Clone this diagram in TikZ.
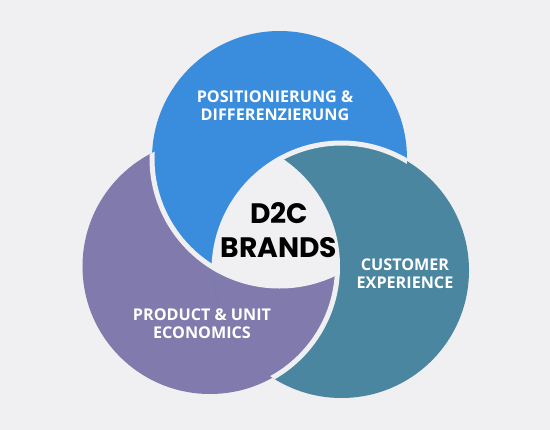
\documentclass[tikz,border=0pt]{standalone}
\usepackage{fontspec}
\setmainfont{Open Sans}
\newfontfamily\brandfont{Poppins}
\usepackage{xcolor}
\definecolor{bgGray}{RGB}{240, 239, 242}
\definecolor{posBlue}{RGB}{58, 141, 221}
\definecolor{prodPurple}{RGB}{128, 122, 173}
\definecolor{custTeal}{RGB}{74, 134, 160}

\begin{document}
\begin{tikzpicture}[x=0.5mm,y=-0.5mm,
    ringlabel/.style={text=white,align=center,font=\bfseries\fontsize{23}{25.6}\selectfont},
    gap/.style={draw=bgGray,line width=2.5mm}]
    % Background
    \fill[bgGray] (0,0) rectangle (550,430);
    \useasboundingbox (0,0) rectangle (550,430);
    \def\rad{63.75mm}

    % Centres
    \coordinate (cb) at (279.5,158.5);
    \coordinate (cp) at (210,266.5);
    \coordinate (ct) at (341.5,270.5);

    % Rings
    \fill[prodPurple] (cp) circle[radius=\rad];
    \fill[posBlue] (cb) circle[radius=\rad];
    \fill[custTeal] (ct) circle[radius=\rad];
    \begin{scope}
        \clip (ct) circle[radius=\rad];
        \fill[prodPurple] (cp) circle[radius=\rad];
    \end{scope}

    % Middle
    \begin{scope}
        \clip (cb) circle[radius=\rad];
        \clip (cp) circle[radius=\rad];
        \fill[bgGray] (ct) circle[radius=\rad];
    \end{scope}

    % Gaps
    \begin{scope}
        \clip (cp) circle[radius=\rad];
        \path[gap] (cb) circle[radius=\rad];
    \end{scope}
    \begin{scope}
        \clip (cb) circle[radius=\rad];
        \path[gap] (ct) circle[radius=\rad];
    \end{scope}
    \begin{scope}
        \clip (ct) circle[radius=\rad];
        \path[gap] (cp) circle[radius=\rad];
    \end{scope}

    % Labels
    \node[ringlabel] (pos) at (275,106) {POSITIONIERUNG \&\\DIFFERENZIERUNG};
    \node[ringlabel] (prod) at (202,324) {PRODUCT \& UNIT\\ECONOMICS};
    \node[ringlabel] (cust) at (405,273.5) {CUSTOMER\\EXPERIENCE};
    \node[align=center,font=\brandfont\bfseries\fontsize{40}{48}\selectfont] (brand) at (279,230) {D2C\\BRANDS};
\end{tikzpicture}
\end{document}
